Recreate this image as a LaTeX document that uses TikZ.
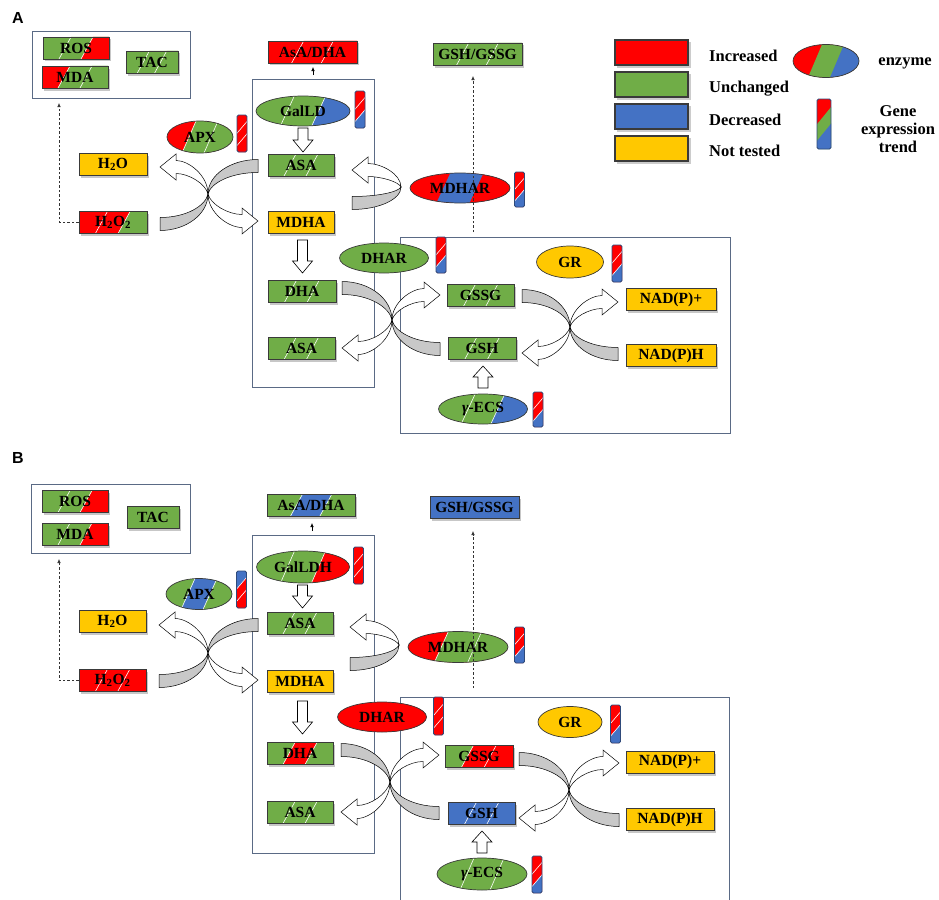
\documentclass[tikz,border=0pt]{standalone}
\usepackage{fontspec}
\setmainfont{Liberation Serif}
\newfontfamily\labelfont{Liberation Sans}
\usetikzlibrary{arrows.meta,shapes.geometric}
\definecolor{cR}{HTML}{FF0000}
\definecolor{cG}{HTML}{70AD47}
\definecolor{cB}{HTML}{4472C4}
\definecolor{cY}{HTML}{FFC800}
\definecolor{frameC}{HTML}{5A6A85}
\definecolor{edgeC}{HTML}{3A3A3A}
\definecolor{barEdge}{HTML}{2F4A7A}
\definecolor{arcGray}{HTML}{C8C8C8}
\newcommand\nfont{\fontsize{15.5}{17}\selectfont\bfseries}
\newcommand\lfont{\fontsize{16.5}{18}\selectfont\bfseries}
\newcommand\wlon{\def\wlflag{1}}
\newcommand\wloff{\def\wlflag{0}}
\wlon
% L R T B c1 c2 c3 slant
\newcommand\segfill[8]{%
 \pgfmathsetmacro\mySA{#1+(#2-#1)/3}%
 \pgfmathsetmacro\mySB{#1+2*(#2-#1)/3}%
 \fill[#5] (#1,#3) rectangle (#2,#4);
 \fill[#6] ({\mySA+#8},#3) -- ({#2+30},#3) -- ({#2+30},#4) -- ({\mySA-#8},#4) -- cycle;
 \fill[#7] ({\mySB+#8},#3) -- ({#2+30},#3) -- ({#2+30},#4) -- ({\mySB-#8},#4) -- cycle;
 \ifnum\wlflag=1
 \draw[white,line width=0.6pt] ({\mySA-#8},#4) -- ({\mySA+#8},#3);
 \draw[white,line width=0.6pt] ({\mySB-#8},#4) -- ({\mySB+#8},#3);
 \fi}
% name cx cy w c1 c2 c3 text
\newcommand\tbox[8]{%
 \pgfmathsetmacro\bxL{#2-#4/2}\pgfmathsetmacro\bxR{#2+#4/2}%
 \pgfmathsetmacro\bxT{#3-11}\pgfmathsetmacro\bxB{#3+11}%
 \fill[black,opacity=0.22] ({\bxL+2},{\bxT+2.5}) rectangle ({\bxR+2},{\bxB+2.5});
 \begin{scope}\clip (\bxL,\bxT) rectangle (\bxR,\bxB);
 \segfill{\bxL}{\bxR}{\bxT}{\bxB}{#5}{#6}{#7}{6}
 \end{scope}
 \node[boxnode,minimum width=#4pt,minimum height=22pt] (#1) at (#2,#3) {#8};}
% name cx cy w h c1 c2 c3 text
\newcommand\tell[9]{%
 \pgfmathsetmacro\bxL{#2-#4/2}\pgfmathsetmacro\bxR{#2+#4/2}%
 \pgfmathsetmacro\bxT{#3-#5/2}\pgfmathsetmacro\bxB{#3+#5/2}%
 \begin{scope}\clip (#2,#3) ellipse [x radius={0.5*#4pt}, y radius={0.5*#5pt}];
 \segfill{\bxL}{\bxR}{\bxT}{\bxB}{#6}{#7}{#8}{7}
 \end{scope}
 \node[ellnode,minimum width=#4pt,minimum height=#5pt] (#1) at (#2,#3) {#9};}
% cx cy w h c1 c2 c3
\newcommand\tbarg[7]{%
 \pgfmathsetmacro\bxL{#1-#3/2}\pgfmathsetmacro\bxR{#1+#3/2}%
 \pgfmathsetmacro\bxT{#2-#4/2}\pgfmathsetmacro\bxB{#2+#4/2}%
 \pgfmathsetmacro\byA{#2-#4/6}\pgfmathsetmacro\byB{#2+#4/6}%
 \pgfmathsetmacro\bsl{0.7*#3}%
 \begin{scope}\clip[rounded corners=1.5pt] (\bxL,\bxT) rectangle (\bxR,\bxB);
 \fill[#5] (\bxL,\bxT) rectangle (\bxR,\bxB);
 \fill[#6] ({\bxL-1},{\byA+\bsl}) -- ({\bxR+1},{\byA-\bsl}) -- ({\bxR+1},{\bxB+1}) -- ({\bxL-1},{\bxB+1}) -- cycle;
 \fill[#7] ({\bxL-1},{\byB+\bsl}) -- ({\bxR+1},{\byB-\bsl}) -- ({\bxR+1},{\bxB+1}) -- ({\bxL-1},{\bxB+1}) -- cycle;
 \ifnum\wlflag=1
 \draw[white,line width=0.6pt] ({\bxL-1},{\byA+\bsl}) -- ({\bxR+1},{\byA-\bsl});
 \draw[white,line width=0.6pt] ({\bxL-1},{\byB+\bsl}) -- ({\bxR+1},{\byB-\bsl});
 \fi
 \end{scope}
 \draw[barEdge,line width=0.8pt,rounded corners=1.5pt] (\bxL,\bxT) rectangle (\bxR,\bxB);}
% curved arrow: apex x, apex y, dir, W, tail dy, head dy
\newcommand\carr[6]{%
 \begin{scope}[shift={(#1,#2)},xscale=#3]
 \pgfmathsetmacro\caSt{sign(#5)}%
 \pgfmathsetmacro\caYo{#5+\caSt*6.5}%
 \pgfmathsetmacro\caYi{#5-\caSt*6.5}%
 \pgfmathsetmacro\caSh{sign(#6)}%
 \pgfmathsetmacro\caHo{#6+\caSh*6.5}%
 \pgfmathsetmacro\caHi{#6-\caSh*6.5}%
 \pgfmathsetmacro\caWo{#6+\caSh*13}%
 \pgfmathsetmacro\caWi{#6-\caSh*13}%
 \pgfmathsetmacro\caB{-#4+16}%
 \filldraw[fill=arcGray,draw=black,line width=0.5pt] (-#4,\caYo) .. controls ({-0.45*#4},\caYo) and (0,{0.55*\caYo}) .. (0,0) .. controls ({-0.05*#4},{0.5*\caYi}) and ({-0.45*#4},\caYi) .. (-#4,\caYi) -- cycle;
 \filldraw[fill=white,draw=black,line width=0.5pt] (0,0) .. controls (0,{0.55*\caHo}) and ({-0.4*#4},\caHo) .. (\caB,\caHo) -- (\caB,\caWo) -- (-#4,#6) -- (\caB,\caWi) -- (\caB,\caHi) .. controls ({-0.4*#4},\caHi) and ({-0.05*#4},{0.5*\caHi}) .. (0,0) -- cycle;
 \end{scope}}
\newcommand\darr[3]{%
 \filldraw[fill=white,draw=black,line width=0.6pt] ({#1-5},#2) -- ({#1+5},#2) -- ({#1+5},{#3-12}) -- ({#1+10},{#3-12}) -- (#1,#3) -- ({#1-10},{#3-12}) -- ({#1-5},{#3-12}) -- cycle;}
\newcommand\uarr[3]{%
 \filldraw[fill=white,draw=black,line width=0.6pt] ({#1-5},#3) -- ({#1+5},#3) -- ({#1+5},{#2+11}) -- ({#1+10},{#2+11}) -- (#1,#2) -- ({#1-10},{#2+11}) -- ({#1-5},{#2+11}) -- cycle;}
\tikzset{
 boxnode/.style={rectangle,draw=edgeC,line width=0.7pt,inner sep=0pt,font=\nfont,text=black},
 ellnode/.style={ellipse,draw=edgeC,line width=0.7pt,inner sep=0pt,font=\nfont,text=black},
 panelbox/.style={draw=frameC,line width=0.8pt},
 dasharr/.style={draw=black!80,dash pattern=on 2.5pt off 2pt,line width=0.6pt,-{Latex[length=4pt,width=3.5pt]}},
 smallarr/.style={draw=black,line width=0.6pt,-{Latex[length=4pt,width=3.5pt]}},
 legtext/.style={font=\lfont,inner sep=0pt,text=black},
 legbox/.style={rectangle,draw=edgeC,line width=1.2pt,minimum width=73pt,minimum height=25pt,inner sep=0pt},
 plabel/.style={font=\labelfont\fontsize{16}{18}\selectfont\bfseries,inner sep=0pt},
}
\begin{document}
\begin{tikzpicture}[x=1pt,y=-1pt]
\useasboundingbox (0,0) rectangle (939,899);
\fill[white] (0,0) rectangle (939,899);
% ---------- panel labels
\node[plabel] (labA) at (18,18) {A};
\node[plabel] (labB) at (18,458) {B};
% ---------- frames
\draw[panelbox] (32,31) rectangle (190,98);
\draw[panelbox] (252,79) rectangle (374,387);
\draw[panelbox] (400,237) rectangle (730,433);
\draw[panelbox] (31,484) rectangle (190,553);
\draw[panelbox] (252,535) rectangle (374,853);
\draw[panelbox] (400,905) -- (400,697) -- (729,697) -- (729,905);
% ---------- curved arrows panel A
\carr{208}{194}{1}{48}{30}{-27}
\carr{208}{194}{-1}{50}{-28}{27}
\carr{401}{187}{1}{49}{16}{-17}
\carr{392}{320}{1}{50}{-32}{28}
\carr{392}{320}{-1}{48}{29}{-25}
\carr{570}{327}{1}{48}{-31}{26}
\carr{570}{327}{-1}{48}{27}{-25}
% ---------- curved arrows panel B
\carr{208}{653}{1}{49}{28}{-28}
\carr{208}{653}{-1}{50}{-28}{27}
\carr{399}{645}{1}{49}{19}{-18}
\carr{390}{782}{1}{49}{-32}{30}
\carr{390}{782}{-1}{49}{31}{-27}
\carr{569}{790}{1}{50}{-31}{28}
\carr{569}{790}{-1}{50}{30}{-27}
% ---------- block arrows
\darr{303}{128}{152}
\darr{302.5}{240}{273}
\uarr{483}{366}{388}
\darr{302.5}{585}{608}
\darr{302.5}{701}{734}
\uarr{482}{831}{853}
% ---------- panel A boxes
\wlon
\tbox{AROS}{76}{48}{66}{cG}{cG}{cR}{ROS}
\tbox{AMDA}{75}{77}{66}{cR}{cG}{cG}{MDA}
\tbox{ATAC}{152}{62}{52}{cG}{cG}{cG}{TAC}
\tbox{AAsA}{312.5}{52}{89}{cR}{cR}{cR}{AsA/DHA}
\tbox{AGSHr}{477.5}{54}{89}{cG}{cG}{cG}{GSH/GSSG}
\tbox{AASA}{301}{165}{66}{cG}{cG}{cG}{ASA}
\tbox{AHtwoOtwo}{113}{222}{68}{cR}{cR}{cG}{H\textsubscript{2}O\textsubscript{2}}
\tbox{ADHA}{302}{291}{68}{cG}{cG}{cG}{DHA}
\tbox{AASAb}{301.5}{348}{67}{cG}{cG}{cG}{ASA}
\tbox{AGSSG}{480.5}{295.5}{67}{cG}{cG}{cG}{GSSG}
\tbox{AGSH}{482}{348.5}{68}{cG}{cG}{cG}{GSH}
\wloff
\tbox{AHtwoO}{113}{164}{68}{cY}{cY}{cY}{H\textsubscript{2}O}
\tbox{AMDHA}{301}{222}{66}{cY}{cY}{cY}{MDHA}
\tbox{ANADPp}{671}{299.5}{90}{cY}{cY}{cY}{NAD(P)+}
\tbox{ANADPH}{671}{355.5}{90}{cY}{cY}{cY}{NAD(P)H}
% ---------- panel A ellipses
\wlon
\tell{AGalLD}{303}{111}{94}{30}{cG}{cG}{cB}{GalLD}
\tell{AAPX}{200}{137}{66}{32}{cR}{cG}{cG}{APX}
\tell{AgECS}{483}{409}{89}{30}{cG}{cG}{cB}{{\itshape γ}-ECS}
\wloff
\tell{AMDHAR}{460}{188}{100}{30}{cR}{cB}{cR}{MDHAR}
\tell{ADHAR}{384}{258}{89}{30}{cG}{cG}{cG}{DHAR}
\tell{AGR}{570}{262}{67}{32}{cY}{cY}{cY}{GR}
% ---------- panel A bars
\wlon
\tbarg{360}{109.5}{10}{37}{cR}{cR}{cB}
\tbarg{242}{133.5}{10}{37}{cR}{cR}{cR}
\tbarg{519.5}{189.5}{10}{35}{cR}{cR}{cB}
\tbarg{441}{255}{10}{36}{cR}{cR}{cB}
\tbarg{617}{263.5}{10}{37}{cR}{cR}{cB}
\tbarg{538}{409.5}{10}{35}{cR}{cR}{cB}
% ---------- panel B boxes
\wlon
\tbox{BROS}{75}{501.5}{66}{cG}{cG}{cR}{ROS}
\tbox{BMDA}{75}{534}{66}{cG}{cG}{cR}{MDA}
\tbox{BAsA}{311}{505.5}{88}{cG}{cB}{cG}{AsA/DHA}
\tbox{BASA}{300}{623}{66}{cG}{cG}{cG}{ASA}
\tbox{BHtwoOtwo}{112.5}{680.5}{67}{cR}{cR}{cR}{H\textsubscript{2}O\textsubscript{2}}
\tbox{BDHA}{300}{753.5}{66}{cG}{cR}{cG}{DHA}
\tbox{BASAb}{300}{812.5}{66}{cG}{cG}{cG}{ASA}
\tbox{BGSSG}{479}{756}{68}{cG}{cR}{cR}{GSSG}
\tbox{BGSH}{481.5}{813.5}{67}{cB}{cB}{cB}{GSH}
\wloff
\tbox{BTAC}{153}{517.5}{52}{cG}{cG}{cG}{TAC}
\tbox{BGSHr}{474.5}{507.5}{89}{cB}{cB}{cB}{GSH/GSSG}
\tbox{BHtwoO}{112.5}{621.5}{67}{cY}{cY}{cY}{H\textsubscript{2}O}
\tbox{BMDHA}{300}{681}{66}{cY}{cY}{cY}{MDHA}
\tbox{BNADPp}{670}{762}{88}{cY}{cY}{cY}{NAD(P)+}
\tbox{BNADPH}{670}{819.5}{88}{cY}{cY}{cY}{NAD(P)H}
% ---------- panel B ellipses
\wlon
\tell{BGalLDH}{303}{567}{93}{32}{cG}{cG}{cR}{GalLDH}
\tell{BAPX}{199}{594}{66}{31}{cG}{cB}{cG}{APX}
\tell{BMDHAR}{458}{647}{100}{31}{cR}{cG}{cG}{MDHAR}
\tell{BgECS}{482}{874}{90}{32}{cG}{cG}{cG}{{\itshape γ}-ECS}
\wloff
\tell{BDHAR}{382}{717}{89}{30}{cR}{cR}{cR}{DHAR}
\tell{BGR}{570}{722}{64}{31}{cY}{cY}{cY}{GR}
% ---------- panel B bars
\wlon
\tbarg{358.5}{565.5}{10}{37}{cR}{cR}{cR}
\tbarg{241.5}{589.5}{10}{37}{cB}{cR}{cR}
\tbarg{519.5}{645}{10}{36}{cR}{cR}{cB}
\tbarg{438.5}{716}{10}{38}{cR}{cR}{cR}
\tbarg{615.5}{724}{10}{38}{cR}{cR}{cB}
\tbarg{537}{874.5}{10}{37}{cR}{cR}{cB}
% ---------- dashed / small connectors
\coordinate (dA1) at (59,103);
\draw[dasharr] (AHtwoOtwo.west) -| (dA1);
\coordinate (dA2s) at (473,232);
\coordinate (dA2e) at (473,76);
\draw[dasharr] (dA2s) -- (dA2e);
\coordinate (sA1) at (313,75);
\coordinate (sA2) at (313,67);
\draw[smallarr] (sA1) -- (sA2);
\coordinate (dB1) at (59,559);
\draw[dasharr] (BHtwoOtwo.west) -| (dB1);
\coordinate (dB2s) at (473,688);
\coordinate (dB2e) at (473,531);
\draw[dasharr] (dB2s) -- (dB2e);
\coordinate (sB1) at (312,531);
\coordinate (sB2) at (312,523);
\draw[smallarr] (sB1) -- (sB2);
% ---------- legend
\foreach \yy/\cc/\nn in {52.5/cR/legInc,84.5/cG/legUnc,116.5/cB/legDec,148.5/cY/legNot}{
 \fill[black,opacity=0.2] (617,{\yy-10.5}) rectangle (691,{\yy+15.5});
 \node[legbox,fill=\cc] (\nn) at (651.5,\yy) {};
}
\node[legtext,anchor=west] (tInc) at (709,56) {Increased};
\node[legtext,anchor=west] (tUnc) at (709,88.5) {Unchanged};
\node[legtext,anchor=west] (tDec) at (709,120) {Decreased};
\node[legtext,anchor=west] (tNot) at (709,151) {Not tested};
\wloff
\tell{legEnz}{826}{61}{66}{33}{cR}{cG}{cB}{}
\node[legtext] (tEnz) at (905,63) {enzyme};
\tbarg{824}{124}{14}{50}{cR}{cG}{cB}
\node[legtext,align=center] (tGene) at (898,129) {Gene\\expression\\trend};
\end{tikzpicture}
\end{document}
